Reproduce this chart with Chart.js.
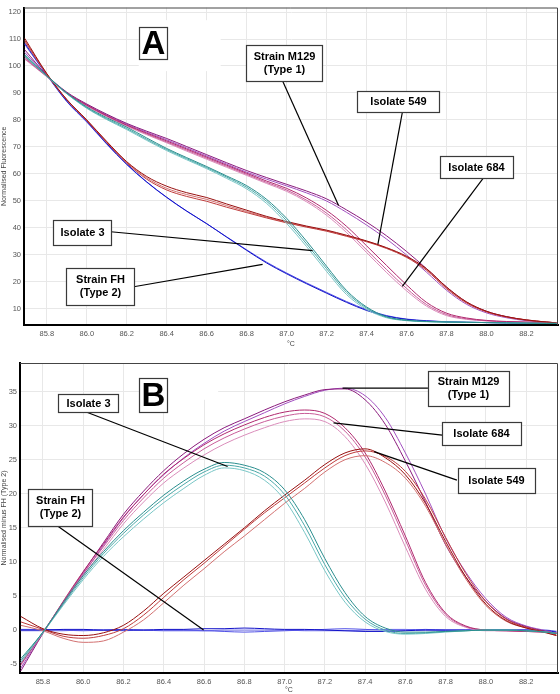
<!DOCTYPE html>
<html>
<head>
<meta charset="utf-8">
<script src="https://cdn.jsdelivr.net/npm/chart.js@4.4.1/dist/chart.umd.min.js"></script>
<style>
  html, body { margin: 0; padding: 0; background: #fff; }
  #wrap { position: relative; width: 560px; height: 694px; overflow: hidden; }
  #chartA { position: absolute; left: 0; top: 0; }
  #chartB { position: absolute; left: 0; top: 350px; }
</style>
</head>
<body>
<div id="wrap">
  <canvas id="chartA" width="560" height="350"></canvas>
  <canvas id="chartB" width="560" height="344"></canvas>
</div>
<script>
// temperatures (°C) shared by every trace
const temps = [85.69, 85.8, 85.9, 86.0, 86.1, 86.2, 86.3, 86.4, 86.5, 86.6, 86.7, 86.8, 86.9, 87.0,
  87.1, 87.2, 87.3, 87.4, 87.5, 87.6, 87.7, 87.8, 87.9, 88.0, 88.1, 88.2, 88.3, 88.35];

const xTicks = [85.8, 86.0, 86.2, 86.4, 86.6, 86.8, 87.0, 87.2, 87.4, 87.6, 87.8, 88.0, 88.2];
const yTicksA = [10, 20, 30, 40, 50, 60, 70, 80, 90, 100, 110, 120];
const yTicksB = [-5, 0, 5, 10, 15, 20, 25, 30, 35];

// Panel A: normalised fluorescence
const fhA1 = [108.5, 96.8, 87.0, 79.5, 71.2, 63.6, 57.0, 51.3, 46.2, 41.5, 36.5, 31.6, 26.9, 22.9, 19.2, 15.7, 12.3, 9.3, 7.2, 6.0, 5.4, 5.1, 4.9, 4.8, 4.7, 4.6, 4.5, 4.5];
const fhA2 = [108.0, 96.6, 86.8, 79.2, 71.0, 63.4, 56.9, 51.2, 46.1, 41.5, 36.6, 31.8, 27.2, 23.2, 19.5, 16.0, 12.6, 9.6, 7.4, 6.1, 5.5, 5.1, 4.9, 4.8, 4.7, 4.6, 4.5, 4.5];
const iso549A1 = [110.2, 97.2, 87.6, 80.0, 72.0, 64.5, 59.0, 55.4, 53.0, 51.2, 48.8, 46.5, 44.2, 42.3, 40.6, 39.1, 37.2, 35.1, 32.6, 29.4, 24.8, 18.0, 12.5, 9.0, 7.0, 5.8, 5.0, 4.7];
const iso549A2 = [109.5, 97.0, 87.4, 79.7, 71.6, 64.0, 58.0, 54.0, 51.6, 49.8, 47.6, 45.6, 43.6, 41.8, 40.2, 38.7, 36.8, 34.8, 32.3, 29.0, 24.2, 17.4, 12.1, 8.8, 6.9, 5.7, 5.0, 4.7];
const iso549A3 = [109.0, 96.9, 87.5, 79.9, 71.8, 64.3, 58.5, 54.6, 52.3, 50.5, 48.2, 46.0, 43.9, 42.0, 40.4, 38.9, 37.0, 35.0, 32.5, 29.2, 24.5, 17.7, 12.3, 8.9, 6.9, 5.8, 5.0, 4.7];
const iso3A1 = [104.2, 96.4, 90.0, 84.8, 80.8, 77.3, 73.3, 69.4, 66.0, 62.7, 59.2, 55.6, 50.5, 43.5, 35.0, 25.7, 16.7, 10.6, 7.0, 5.7, 5.2, 5.0, 4.9, 4.8, 4.7, 4.6, 4.5, 4.5];
const iso3A2 = [103.8, 96.3, 89.8, 84.5, 80.4, 76.8, 72.8, 69.0, 65.6, 62.3, 58.8, 55.0, 49.8, 42.6, 34.0, 24.8, 16.0, 10.2, 6.8, 5.6, 5.2, 5.0, 4.9, 4.8, 4.7, 4.6, 4.5, 4.5];
const iso3A3 = [103.5, 96.2, 89.7, 84.3, 80.1, 76.4, 72.4, 68.6, 65.2, 61.9, 58.3, 54.4, 49.0, 41.6, 33.0, 23.8, 15.2, 9.7, 6.6, 5.5, 5.1, 5.0, 4.9, 4.8, 4.7, 4.6, 4.5, 4.5];
const m129A1 = [106.0, 96.6, 90.3, 85.9, 82.1, 78.7, 75.8, 73.1, 70.1, 67.1, 64.1, 61.2, 58.6, 56.1, 53.6, 50.7, 46.6, 42.1, 37.0, 31.2, 24.8, 18.0, 12.4, 9.0, 7.0, 5.7, 5.0, 4.7];
const m129A2 = [105.0, 96.5, 90.1, 85.6, 81.8, 78.4, 75.4, 72.6, 69.6, 66.6, 63.6, 60.6, 58.0, 55.5, 52.9, 49.9, 45.7, 41.0, 35.8, 29.9, 23.5, 16.8, 11.6, 8.4, 6.6, 5.5, 4.9, 4.7];
const iso684A1 = [103.3, 96.2, 90.0, 85.5, 81.6, 78.1, 75.1, 72.2, 69.2, 66.2, 63.2, 60.2, 57.3, 54.6, 51.0, 46.4, 40.5, 33.3, 26.0, 18.8, 12.3, 8.3, 6.5, 5.6, 5.2, 5.0, 4.8, 4.7];
const iso684A2 = [102.8, 96.1, 89.8, 85.3, 81.4, 77.9, 74.8, 71.8, 68.8, 65.8, 62.8, 59.8, 56.8, 54.0, 50.2, 45.4, 39.2, 31.8, 24.5, 17.5, 11.5, 7.8, 6.2, 5.5, 5.1, 4.9, 4.8, 4.7];
const iso684A3 = [102.5, 96.0, 89.7, 85.1, 81.2, 77.6, 74.5, 71.5, 68.4, 65.4, 62.4, 59.4, 56.4, 53.5, 49.6, 44.6, 38.2, 30.8, 23.4, 16.6, 10.9, 7.4, 6.0, 5.4, 5.1, 4.9, 4.8, 4.7];

// Panel B: difference from Strain FH (Type 2)
const fhB1 = [0.0, 0.0, 0.1, 0.1, 0.0, 0.0, 0.0, 0.1, 0.1, 0.2, 0.2, 0.3, 0.2, 0.1, 0.1, 0.0, -0.1, -0.2, -0.2, -0.1, 0.0, 0.0, 0.0, 0.0, 0.0, 0.0, -0.1, -0.3];
const fhB2 = [0.1, 0.1, 0.0, -0.1, 0.0, 0.1, 0.0, -0.1, -0.1, -0.1, -0.2, -0.3, -0.2, -0.1, 0.0, 0.1, 0.2, 0.1, 0.0, 0.0, 0.1, 0.0, 0.0, 0.0, 0.0, 0.0, 0.0, -0.2];
const fhB3 = [-0.1, -0.1, -0.1, 0.0, 0.0, -0.1, 0.0, 0.0, 0.0, -0.1, 0.0, 0.0, 0.0, 0.0, -0.1, -0.1, -0.1, 0.0, 0.1, 0.1, 0.0, 0.0, 0.0, 0.0, 0.0, 0.0, -0.1, -0.3];
const iso549B1 = [2.0, 0.2, -0.6, -0.8, -0.4, 0.7, 2.8, 5.4, 7.8, 10.2, 12.6, 15.0, 17.5, 19.8, 22.0, 24.3, 26.0, 26.6, 25.3, 22.8, 18.6, 13.0, 7.8, 3.8, 1.4, 0.3, -0.4, -0.8];
const iso549B2 = [1.2, 0.1, -0.9, -1.2, -0.8, 0.2, 2.2, 4.8, 7.4, 9.8, 12.3, 14.8, 17.2, 19.4, 21.6, 23.8, 25.6, 26.3, 25.5, 23.3, 19.2, 13.6, 8.3, 4.2, 1.6, 0.4, -0.3, -0.7];
const iso549B3 = [0.7, -0.1, -1.2, -1.8, -1.6, -0.3, 1.5, 4.0, 6.6, 9.0, 11.5, 13.8, 16.2, 18.6, 20.8, 23.2, 25.0, 25.6, 24.6, 22.3, 18.2, 12.6, 7.5, 3.6, 1.3, 0.3, -0.4, -0.8];
const iso3B1 = [-4.2, -0.3, 4.0, 8.0, 11.5, 14.6, 17.3, 19.8, 21.9, 23.6, 24.6, 24.2, 23.1, 20.6, 16.2, 10.5, 5.5, 2.0, 0.3, -0.3, -0.3, -0.2, -0.1, 0.0, 0.0, -0.1, -0.3, -0.5];
const iso3B2 = [-4.5, -0.3, 3.8, 7.7, 11.2, 14.2, 16.9, 19.3, 21.4, 23.2, 24.2, 23.8, 22.6, 19.9, 15.3, 9.6, 4.8, 1.6, 0.0, -0.5, -0.4, -0.2, -0.1, 0.0, 0.0, -0.1, -0.3, -0.5];
const iso3B3 = [-4.8, -0.4, 3.6, 7.4, 10.8, 13.7, 16.3, 18.7, 20.8, 22.7, 23.8, 23.4, 22.0, 19.1, 14.3, 8.7, 4.1, 1.2, -0.2, -0.6, -0.5, -0.3, -0.1, 0.0, 0.0, -0.1, -0.3, -0.5];
const m129B1 = [-6.0, -0.5, 4.0, 8.5, 12.8, 17.0, 20.4, 23.4, 25.9, 28.0, 29.7, 31.0, 32.3, 33.5, 34.5, 35.3, 35.4, 33.8, 30.2, 24.8, 18.8, 12.5, 7.8, 4.2, 1.7, 0.5, -0.2, -0.5];
const m129B2 = [-5.6, -0.4, 3.8, 8.2, 12.4, 16.5, 19.9, 22.8, 25.3, 27.4, 29.2, 30.6, 31.9, 33.2, 34.3, 35.2, 35.5, 34.4, 31.2, 26.0, 20.0, 13.5, 8.5, 4.6, 1.9, 0.6, -0.1, -0.5];
const iso684B1 = [-5.0, -0.4, 4.2, 8.6, 12.6, 16.6, 19.9, 22.9, 25.2, 27.2, 28.8, 30.1, 31.2, 32.0, 32.3, 31.8, 29.7, 26.0, 20.4, 13.8, 7.0, 2.5, 0.6, 0.0, -0.1, -0.2, -0.3, -0.4];
const iso684B2 = [-4.8, -0.3, 4.1, 8.3, 12.2, 16.1, 19.4, 22.3, 24.6, 26.6, 28.2, 29.5, 30.6, 31.4, 31.8, 31.3, 29.2, 25.4, 19.8, 13.2, 6.6, 2.3, 0.5, 0.0, -0.1, -0.2, -0.3, -0.4];
const iso684B3 = [-5.2, -0.4, 4.0, 8.0, 11.8, 15.6, 18.8, 21.6, 23.8, 25.7, 27.3, 28.6, 29.7, 30.6, 31.0, 30.6, 28.4, 24.4, 18.8, 12.2, 6.0, 2.0, 0.4, -0.1, -0.1, -0.2, -0.3, -0.4];

const FONT = "'Liberation Sans', Arial, sans-serif";
Chart.defaults.font.family = FONT;
Chart.defaults.animation = false;

function trace(values, color) {
  return {
    data: values.map((v, i) => ({ x: temps[i], y: v })),
    borderColor: color,
    borderWidth: 1,
    pointRadius: 0,
    fill: false,
    cubicInterpolationMode: "monotone",
  };
}

// callout boxes, leader lines and the big panel letter
const calloutPlugin = {
  id: "callouts",
  beforeDatasetsDraw(chart, args, opts) {
    const { ctx, scales: { x, y } } = chart;
    const p = opts.patch;
    if (!p) return;
    const x1 = x.getPixelForValue(p[0]), x2 = x.getPixelForValue(p[1]);
    const top = Math.max(y.getPixelForValue(p[3]), chart.chartArea.top + 1);
    const bottom = y.getPixelForValue(p[2]);
    ctx.save();
    ctx.fillStyle = "#fff";
    ctx.fillRect(x1, top, x2 - x1, bottom - top);
    ctx.restore();
  },
  afterDatasetsDraw(chart, args, opts) {
    const { ctx, scales: { x, y } } = chart;
    ctx.save();
    ctx.strokeStyle = "#000";
    ctx.lineWidth = 1.2;
    opts.items.forEach((it) => {
      if (!it.to) return;
      ctx.beginPath();
      ctx.moveTo(x.getPixelForValue(it.from[0]), y.getPixelForValue(it.from[1]));
      ctx.lineTo(x.getPixelForValue(it.to[0]), y.getPixelForValue(it.to[1]));
      ctx.stroke();
    });
    opts.items.forEach((it) => {
      const cx = Math.round(x.getPixelForValue(it.at[0]));
      const cy = Math.round(y.getPixelForValue(it.at[1]));
      const left = Math.round(cx - it.w / 2) + 0.5;
      const top = Math.round(cy - it.h / 2) + 0.5;
      ctx.fillStyle = "#fff";
      ctx.fillRect(left, top, it.w, it.h);
      ctx.strokeStyle = "#3a3a3a";
      ctx.lineWidth = 1.2;
      ctx.strokeRect(left, top, it.w, it.h);
      ctx.fillStyle = "#000";
      ctx.textAlign = "center";
      ctx.textBaseline = "middle";
      if (it.big) {
        ctx.font = `bold 33px ${FONT}`;
        ctx.fillText(it.lines[0], cx + 0.5, cy + 2);
      } else {
        ctx.font = `bold 11px ${FONT}`;
        const lh = 13;
        const y0 = cy - ((it.lines.length - 1) * lh) / 2;
        it.lines.forEach((t, i) => ctx.fillText(t, cx + 0.5, y0 + i * lh + 0.5));
      }
    });
    ctx.restore();
  },
  afterDraw(chart) {
    const { ctx, chartArea: a } = chart;
    ctx.save();
    ctx.strokeStyle = "#444";
    ctx.lineWidth = 1;
    ctx.beginPath();
    ctx.moveTo(a.left, a.top + 0.5);
    ctx.lineTo(a.right - 0.5, a.top + 0.5);
    ctx.lineTo(a.right - 0.5, a.bottom);
    ctx.stroke();
    ctx.restore();
  },
};

const tickFont = { size: 7.5, family: FONT };

function buildChart(canvasId, datasets, cfg) {
  return new Chart(document.getElementById(canvasId), {
    type: "line",
    data: { datasets },
    plugins: [calloutPlugin],
    options: {
      responsive: false,
      animation: false,
      layout: { padding: { top: cfg.padTop, right: 2, left: 0, bottom: 0 } },
      plugins: {
        legend: { display: false },
        tooltip: { enabled: false },
        callouts: { items: cfg.items, patch: cfg.patch },
      },
      scales: {
        x: {
          type: "linear",
          min: 85.686,
          max: 88.358,
          afterBuildTicks: (s) => { s.ticks = xTicks.map((v) => ({ value: v })); },
          afterFit: (s) => { s.height = cfg.xHeight; },
          ticks: { font: tickFont, color: "#555", padding: 4, callback: (v) => Number(v).toFixed(1) },
          grid: { color: "#e8e8e8", drawTicks: false },
          border: { color: "#000", width: 2 },
          title: { display: true, text: "°C", font: { size: 7, family: FONT }, color: "#444", padding: { top: 0, bottom: cfg.xTitlePad } },
        },
        y: {
          min: cfg.yMin,
          max: cfg.yMax,
          afterBuildTicks: (s) => { s.ticks = cfg.yTicks.map((v) => ({ value: v })); },
          afterFit: (s) => { s.width = cfg.yWidth; },
          ticks: { font: tickFont, color: "#555", padding: 3 },
          grid: { color: "#e8e8e8", drawTicks: false },
          border: { color: "#000", width: 2 },
          title: { display: true, text: cfg.yTitle, font: { size: 7, family: FONT }, color: "#444", padding: 0 },
        },
      },
    },
  });
}

const colFH = ["#1212c8", "#5050e6", "#7878f0"];
const colIso3 = ["#2a8e8e", "#4aa8a8", "#78c6c6"];
const colM129 = ["#8a1a7c", "#a250c0"];
const col684 = ["#b0286e", "#c85c98", "#da8cba"];
const col549 = ["#981010", "#bf3c3c", "#d27070"];

buildChart("chartA", [
  trace(iso3A1, colIso3[0]), trace(iso3A2, colIso3[1]), trace(iso3A3, colIso3[2]),
  trace(iso549A1, col549[0]), trace(iso549A2, col549[1]), trace(iso549A3, col549[2]),
  trace(iso684A1, col684[0]), trace(iso684A2, col684[1]), trace(iso684A3, col684[2]),
  trace(m129A1, colM129[0]), trace(m129A2, colM129[1]),
  trace(fhA1, colFH[0]), trace(fhA2, colFH[1]),
], {
  padTop: 1, xHeight: 25, xTitlePad: 2, yWidth: 24,
  yMin: 3.9, yMax: 121.7, yTicks: yTicksA,
  yTitle: "Normalised Fluorescence",
  patch: [86.26, 86.67, 98.1, 117],
  items: [
    { lines: ["A"], at: [86.33, 108.7], w: 28, h: 32, big: true },
    { lines: ["Strain M129", "(Type 1)"], at: [86.985, 101.0], w: 76, h: 36, from: [86.98, 94.4], to: [87.26, 48.2] },
    { lines: ["Isolate 549"], at: [87.555, 87.0], w: 82, h: 21, from: [87.58, 83.2], to: [87.457, 33.9] },
    { lines: ["Isolate 684"], at: [87.95, 62.5], w: 73, h: 22, from: [87.985, 58.5], to: [87.579, 18.2] },
    { lines: ["Isolate 3"], at: [85.975, 38.3], w: 58, h: 25, from: [86.12, 38.5], to: [87.13, 31.5] },
    { lines: ["Strain FH", "(Type 2)"], at: [86.065, 18.3], w: 68, h: 37, from: [86.235, 18.1], to: [86.88, 26.4] },
  ],
});

buildChart("chartB", [
  trace(iso3B1, colIso3[0]), trace(iso3B2, colIso3[1]), trace(iso3B3, colIso3[2]),
  trace(iso549B1, col549[0]), trace(iso549B2, col549[1]), trace(iso549B3, col549[2]),
  trace(iso684B1, col684[0]), trace(iso684B2, col684[1]), trace(iso684B3, col684[2]),
  trace(m129B1, colM129[0]), trace(m129B2, colM129[1]),
  trace(fhB1, colFH[0]), trace(fhB2, colFH[1]), trace(fhB3, colFH[2]),
], {
  padTop: 13, xHeight: 21, xTitlePad: 0, yWidth: 20,
  yMin: -6.3, yMax: 39.2, yTicks: yTicksB,
  yTitle: "Normalised minus FH (Type 2)",
  patch: [86.28, 86.67, 33.8, 39.2],
  items: [
    { lines: ["B"], at: [86.349, 34.5], w: 28, h: 34, big: true },
    { lines: ["Isolate 3"], at: [86.025, 33.3], w: 60, h: 18, from: [86.015, 32.0], to: [86.717, 24.0] },
    { lines: ["Strain FH", "(Type 2)"], at: [85.886, 18.0], w: 64, h: 37, from: [85.871, 15.3], to: [86.598, 0] },
    { lines: ["Strain M129", "(Type 1)"], at: [87.913, 35.5], w: 81, h: 35, from: [87.712, 35.5], to: [87.288, 35.5] },
    { lines: ["Isolate 684"], at: [87.978, 28.9], w: 79, h: 23, from: [87.783, 28.6], to: [87.243, 30.4] },
    { lines: ["Isolate 549"], at: [88.048, 22.1], w: 77, h: 25, from: [87.856, 22.0], to: [87.445, 26.2] },
  ],
});
</script>
</body>
</html>
